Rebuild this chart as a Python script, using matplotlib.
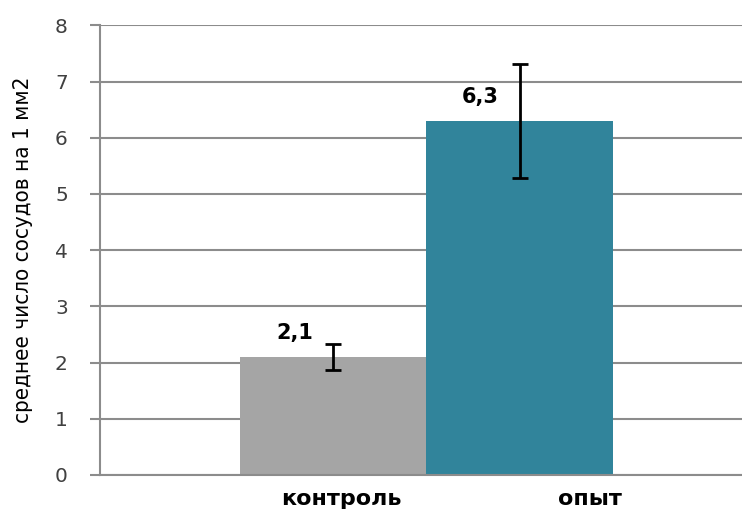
import numpy as np
import matplotlib.pyplot as plt

categories = ["контроль", "опыт"]
means = [2.1, 6.3]
errors = [0.23, 1.02]
value_labels = ["2,1", "6,3"]
colors = ["#A5A5A5", "#31849B"]
y_ticks = [0, 1, 2, 3, 4, 5, 6, 7, 8]

fig = plt.figure(figsize=(7.42, 5.12), dpi=100)
ax = fig.add_axes([0.1348, 0.0723, 0.8652, 0.8783])

x = np.arange(len(categories))
ax.bar(x, means, width=1.0, color=colors, zorder=2)
ax.errorbar(x, means, yerr=errors, fmt="none", ecolor="black",
            elinewidth=2, capsize=6, capthick=2, zorder=3)

for xi, m, lab in zip(x, means, value_labels):
    ax.text(xi - 0.21, m + 0.42, lab, ha="center", va="center",
            fontsize=15, fontweight="bold", color="black")

ax.set_xlim(-1.255, 2.196)
ax.set_ylim(0, 8)
ax.set_yticks(y_ticks)
ax.yaxis.grid(True, color="#8c8c8c", linewidth=1.5, zorder=0)
ax.set_axisbelow(True)

# category labels sit off-centre in the original
ax.set_xticks([0.044, 1.38])
ax.set_xticklabels(categories, fontsize=16, fontweight="bold")
ax.tick_params(axis="x", length=0, pad=10)
ax.tick_params(axis="y", length=7.2, width=1.5, color="#8c8c8c",
               labelsize=14.5, labelcolor="#404040", pad=16)

for side in ["top", "right"]:
    ax.spines[side].set_visible(False)
ax.spines["left"].set_color("#8c8c8c")
ax.spines["left"].set_linewidth(1.5)
ax.spines["bottom"].set_color("#8c8c8c")
ax.spines["bottom"].set_linewidth(1.5)

ax.set_ylabel("среднее число сосудов на 1 мм2", fontsize=16,
              family=["DejaVu Sans"], stretch="condensed")
ax.yaxis.set_label_coords(-0.104, 0.5)

fig.savefig("out.png", dpi=100)
